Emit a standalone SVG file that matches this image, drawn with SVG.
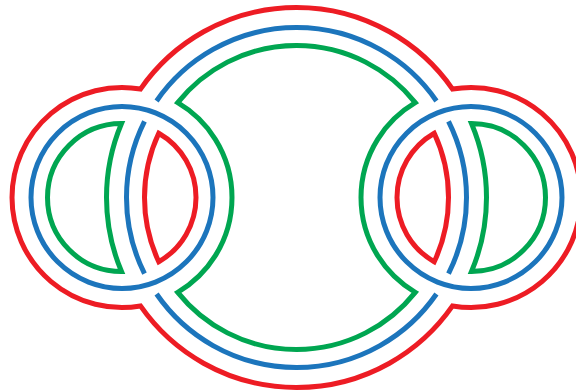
<svg xmlns="http://www.w3.org/2000/svg" width="576" height="391" viewBox="0 0 576 391">
<style>
path,circle{fill:none;stroke-width:5;stroke-linejoin:miter;stroke-miterlimit:10;stroke-linecap:butt}
.r{stroke:#ED1C24}
.b{stroke:#1C75BC}
.g{stroke:#00A651}
</style>
<rect width="576" height="391" fill="#fff"/>
<g id="red">
<path class="r" d="M140.48,89.06 A190,190 0 0,1 452.52,89.06 A110,110 0 1,1 452.52,305.94 A190,190 0 0,1 140.48,305.94 A110,110 0 1,1 140.48,89.06 Z"/>
<path class="r" d="M158.74,133.26 A74,74 0 0,1 158.74,261.74 A152,152 0 0,1 158.74,133.26 Z"/>
<path class="r" d="M434.26,133.26 A74,74 0 0,0 434.26,261.74 A152,152 0 0,0 434.26,133.26 Z"/>
</g>
<g id="green">
<path class="g" d="M177.72,102.66 A152,152 0 0,1 415.28,102.66 A110,110 0 0,0 415.28,292.34 A152,152 0 0,1 177.72,292.34 A110,110 0 0,0 177.72,102.66 Z"/>
<path class="g" d="M121.5,123.5 A74,74 0 1,0 121.5,271.5 A190,190 0 0,1 121.5,123.5 Z"/>
<path class="g" d="M471.5,123.5 A74,74 0 1,1 471.5,271.5 A190,190 0 0,0 471.5,123.5 Z"/>
</g>
<g id="blue">
<circle class="b" cx="122" cy="197.5" r="91"/>
<circle class="b" cx="471" cy="197.5" r="91"/>
<path class="b" d="M156.57,100.97 A170,170 0 0,1 436.43,100.97"/>
<path class="b" d="M448.51,121.37 A170,170 0 0,1 448.51,273.63"/>
<path class="b" d="M436.43,294.03 A170,170 0 0,1 156.57,294.03"/>
<path class="b" d="M144.49,273.63 A170,170 0 0,1 144.49,121.37"/>
</g>
</svg>
